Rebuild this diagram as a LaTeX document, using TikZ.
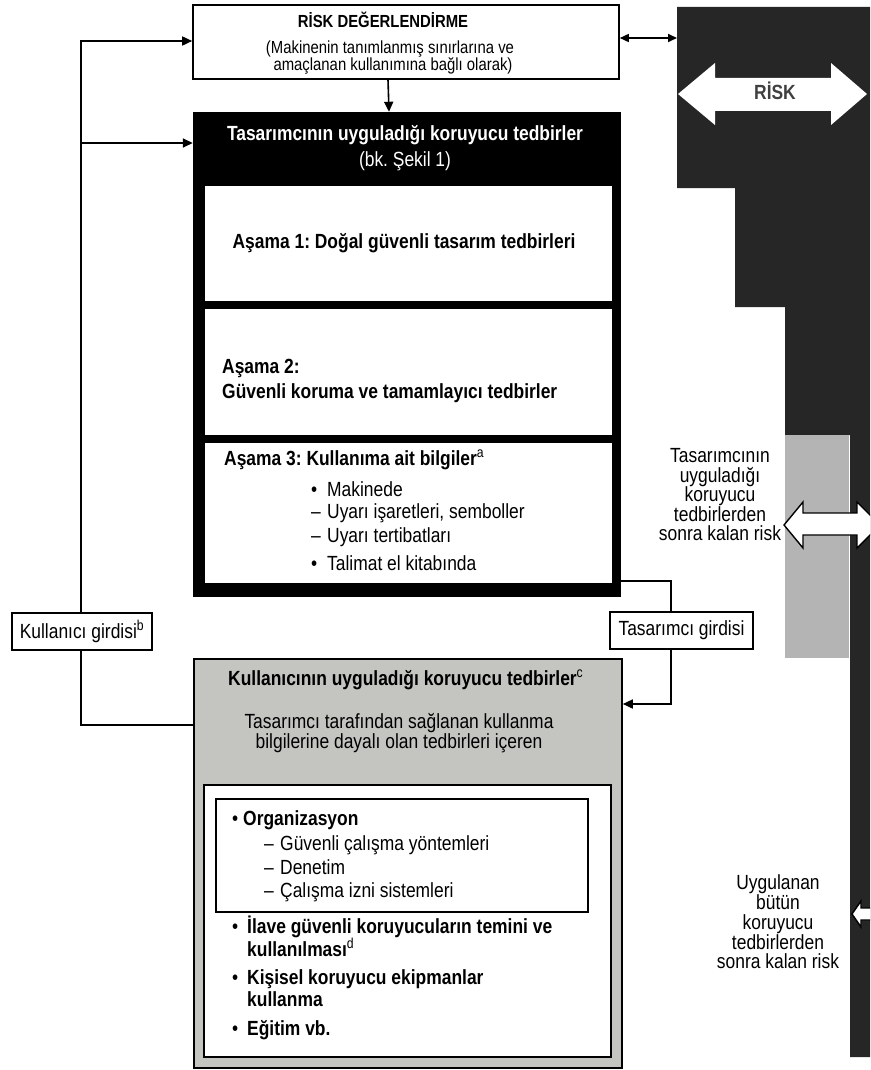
\documentclass[tikz,border=0pt]{standalone}
\usepackage{fontspec}
\setmainfont[FakeStretch=0.85]{Liberation Sans}
\usepackage{tikz}
\usetikzlibrary{arrows.meta, positioning}
\usepackage{xcolor}
\frenchspacing
\definecolor{riskdark}{HTML}{262626}
\definecolor{riskgray}{HTML}{B4B4B4}
\definecolor{userfill}{HTML}{C4C4C0}
\newcommand{\bigsize}{\fontsize{20.5}{24}\selectfont}
\newcommand{\smallsize}{\fontsize{17.5}{20}\selectfont}
\tikzset{%
	box/.style={
		draw,
		line width=1.6pt,
		inner sep=0pt
	},
	stage/.style={
		fill=white,
		minimum width=407pt,
		inner sep=0pt
	},
	txt/.style={
		inner sep=0pt,
		text height=15pt,
		text depth=4pt,
		font=\bigsize
	},
	bold txt/.style={
		txt,
		font=\bigsize\bfseries
	},
	small txt/.style={
		inner sep=0pt,
		text height=13.5pt,
		text depth=3.5pt,
		font=\smallsize
	},
	arr/.style={
		line width=1.6pt,
		-{Triangle[length=10pt, width=9pt]}
	},
	risk arrow/.style={
		fill=white,
		line width=1.4pt
	},
}

\begin{document}
\begin{tikzpicture}[x=1pt, y=-1pt]
			% Fix the page
			\useasboundingbox (0,0) rectangle (870,1070);
			\clip (0,0) rectangle (870,1070);
			
			% Marker of a list item
			\newcommand{\mrk}[2]{\makebox[#1][l]{#2}}
			
			% Draw the risk staircase on the right
			\fill[riskdark] (677,7) -- (870,7) -- (870,1057) -- (850,1057) -- (850,435) -- (785,435)
				-- (785,307) -- (735,307) -- (735,188) -- (677,188) -- cycle;
			\fill[riskgray] (785,435) rectangle (849,658);
			
			% Draw the risk arrows
			\fill[white] (678,94) -- (715,63) -- (715,78) -- (831,78) -- (831,63) -- (867,94)
				-- (831,125) -- (831,111) -- (715,111) -- (715,125) -- cycle;
			\node[txt, font=\bigsize\bfseries, text=black!75] (risk) at (775,94) {RİSK};
			\draw[risk arrow] (784,525) -- (803,502) -- (803,513) -- (857,513) -- (857,502) -- (880,525)
				-- (857,548) -- (857,535) -- (803,535) -- (803,548) -- cycle;
			\draw[risk arrow] (852,914) -- (861,901) -- (861,908) -- (880,908) -- (880,901) -- (889,914)
				-- (880,927) -- (880,920) -- (861,920) -- (861,927) -- cycle;
			
			% Draw the notes of the residual risk
			\foreach \line [count=\i] in {Tasarımcının, uyguladığı, koruyucu, tedbirlerden, sonra kalan risk} {
				\node[txt] (rest\i) at (720, 437.5+19.5*\i) {\line};
			}
			\foreach \line [count=\i] in {Uygulanan, bütün, koruyucu, tedbirlerden, sonra kalan risk} {
				\node[txt] (resu\i) at (778, 864.5+19.75*\i) {\line};
			}
			
			% Draw the risk assessment box
			\node[box, minimum width=426pt, minimum height=74pt] (riskdeg) at (406,42) {};
			\node[small txt, font=\smallsize\bfseries] (riskdegtitle) at (383,23) {RİSK DEĞERLENDİRME};
			\node[small txt] (riskdegsub1) at (390,49) {(Makinenin tanımlanmış sınırlarına ve};
			\node[small txt] (riskdegsub2) at (393,66) {amaçlanan kullanımına bağlı olarak)};
			
			% Draw the designer box and its three stages
			\node[fill=black, minimum width=428pt, minimum height=485pt, inner sep=0pt] (designer) at (407,354.5) {};
			\node[bold txt, text=white] (designertitle) at (405,135) {Tasarımcının uyguladığı koruyucu tedbirler};
			\node[txt, text=white] (designersub) at (405,161) {(bk. Şekil 1)};
			\node[stage, minimum height=115pt] (asama1) at (408.5,243.5) {};
			\node[stage, minimum height=126pt] (asama2) at (408.5,372) {};
			\node[stage, minimum height=140pt] (asama3) at (408.5,513) {};
			\node[bold txt] (asama1text) at (404,243) {Aşama 1: Doğal güvenli tasarım tedbirleri};
			\node[bold txt, anchor=west] (asama2text) at (222,368) {Aşama 2:};
			\node[bold txt, anchor=west] (asama2more) at (222,393) {Güvenli koruma ve tamamlayıcı tedbirler};
			\node[bold txt, anchor=west] (asama3text) at (224,460) {Aşama 3: Kullanıma ait bilgiler\textsuperscript{\mdseries a}};
			\node[txt, anchor=west] (info1) at (311,491) {\mrk{16pt}{\textbullet}Makinede};
			\node[txt, anchor=west] (info2) at (311,513) {\mrk{16pt}{–}Uyarı işaretleri, semboller};
			\node[txt, anchor=west] (info3) at (311,537) {\mrk{16pt}{–}Uyarı tertibatları};
			\node[txt, anchor=west] (info4) at (311,565) {\mrk{16pt}{\textbullet}Talimat el kitabında};
			
			% Draw the user box
			\node[box, fill=userfill, minimum width=428pt, minimum height=409pt] (userbox) at (408,863.5) {};
			\node[bold txt, anchor=west] (usertitle) at (228,680) {Kullanıcının uyguladığı koruyucu tedbirler\textsuperscript{\mdseries c}};
			\node[txt] (usersub1) at (399,723) {Tasarımcı tarafından sağlanan kullanma};
			\node[txt] (usersub2) at (399,743) {bilgilerine dayalı olan tedbirleri içeren};
			\node[box, fill=white, minimum width=407pt, minimum height=272pt] (userinner) at (407.5,921) {};
			\node[draw, line width=1.2pt, minimum width=372pt, minimum height=113pt, inner sep=0pt] (orgbox) at (402,855.5) {};
			\node[bold txt, anchor=west] (org) at (232,820) {\mrk{11pt}{\mdseries\textbullet}Organizasyon};
			\node[txt, anchor=west] (org1) at (264,845) {\mrk{16pt}{–}Güvenli çalışma yöntemleri};
			\node[txt, anchor=west] (org2) at (264,869) {\mrk{16pt}{–}Denetim};
			\node[txt, anchor=west] (org3) at (264,892) {\mrk{16pt}{–}Çalışma izni sistemleri};
			\node[bold txt, anchor=west] (guard) at (232,928) {\mrk{15pt}{\mdseries\textbullet}İlave güvenli koruyucuların temini ve};
			\node[bold txt, anchor=west] (guardmore) at (247,951) {kullanılması\textsuperscript{\mdseries d}};
			\node[bold txt, anchor=west] (ppe) at (232,979) {\mrk{15pt}{\mdseries\textbullet}Kişisel koruyucu ekipmanlar};
			\node[bold txt, anchor=west] (ppemore) at (247,1001) {kullanma};
			\node[bold txt, anchor=west] (train) at (232,1030) {\mrk{15pt}{\mdseries\textbullet}Eğitim vb.};
			
			% Draw the connectors
			\coordinate (fbtop) at (81,41);
			\coordinate (fbmid) at (81,143);
			\coordinate (fbbot) at (81,725);
			\coordinate (dsout) at (671,581);
			\coordinate (dsin) at (671,704);
			\coordinate (riskedge) at (677,38);
			\draw[arr] ([xshift=-18pt]riskdeg.south) -- ([xshift=-18pt]designer.north);
			\draw[line width=1.6pt, {Triangle[length=9pt, width=8pt]}-{Triangle[length=9pt, width=8pt]}] (riskedge -| riskdeg.east) -- (riskedge);
			\draw[arr] (fbbot -| userbox.west) -- (fbbot) -- (fbtop) -- (fbtop -| riskdeg.west);
			\draw[arr] (fbmid) -- (fbmid -| designer.west);
			\draw[arr] (dsout -| designer.east) -- (dsout) -- (dsin) -- (dsin -| userbox.east);
			
			% Draw the input boxes over the lines
			\node[box, fill=white, font=\bigsize, minimum width=140pt, minimum height=37pt] (userin) at (82,631.5) {Kullanıcı girdisi\textsuperscript{b}};
			\node[box, fill=white, font=\bigsize, minimum width=143pt, minimum height=37pt] (designin) at (681.5,630.5) {Tasarımcı girdisi};
			
		\end{tikzpicture}
\end{document}
